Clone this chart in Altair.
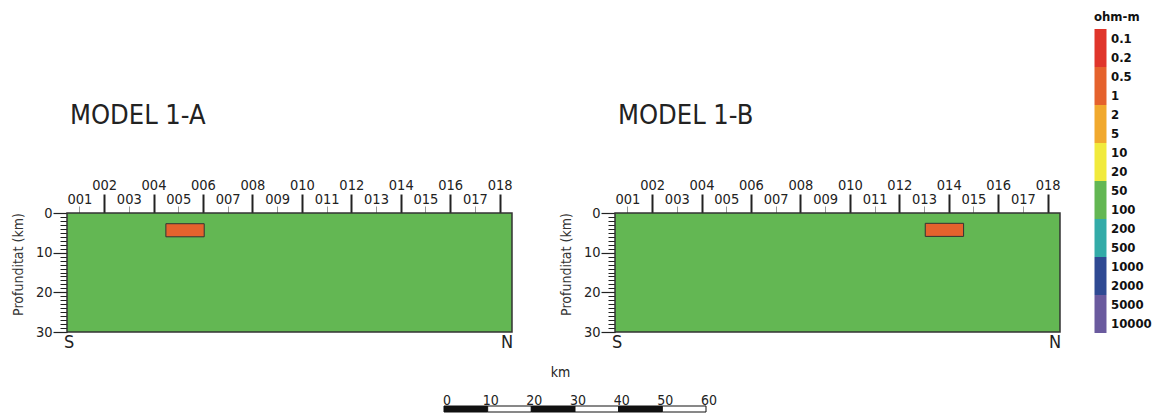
import altair as alt
import pandas as pd

FONT = "DejaVu Sans Condensed"
INK = "#222222"

# ---------------- data ----------------
stations = list(range(1, 19))
even_stations = stations[1::2]
odd_stations = stations[0::2]
x_domain = [0.5, 18.5]
depth_domain = [0, 30]
depth_major = [0, 10, 20, 30]
depth_minor = list(range(0, 31))

models = ["MODEL 1-A", "MODEL 1-B"]
host_res = "100"
anom_x0 = [4.5, 13.05]
anom_x1 = [6.05, 14.6]
anom_top = [2.7, 2.6]
anom_bot = [6.0, 5.9]
anom_res = ["1", "1"]

res_labels = ["0.1", "0.2", "0.5", "1", "2", "5", "10", "20", "50", "100",
              "200", "500", "1000", "2000", "5000", "10000"]
res_colors = ["#e0352b", "#e0352b", "#e5622d", "#e5622d", "#f1a92e", "#f1a92e",
              "#f1ea3c", "#f1ea3c", "#63b753", "#63b753", "#33aba8", "#33aba8",
              "#2f4a93", "#2f4a93", "#6a5a9e", "#6a5a9e"]

bar_km = [0, 10, 20, 30, 40, 50, 60]
ends = ["S", "N"]

PLOT_W = 445
PLOT_H = 119

no_view = alt.ViewBackground(stroke="transparent", strokeWidth=0, fill="transparent")

color_scale = alt.Scale(domain=res_labels, range=res_colors)
legend_def = alt.Legend(
    title="ohm-m", orient="none", legendX=1027, legendY=-202, direction="vertical",
    symbolType="M-1,-1.5833H1V1.5833H-1Z", symbolSize=144, symbolStrokeWidth=0,
    labelFont=FONT, labelFontSize=13, labelFontWeight="bold", labelColor="#111",
    titleFont=FONT, titleFontSize=13, titleFontWeight="bold", titleColor="#111",
    titlePadding=8, rowPadding=0, labelOffset=4, padding=0,
)

axis_even = alt.Axis(orient="top", values=even_stations, format="03d", tickSize=19, tickWidth=2,
                     tickColor=INK, labelPadding=1.5, labelFont=FONT, labelFontSize=14.5,
                     labelColor=INK, labelFlush=False, labelOverlap=False, domain=False,
                     grid=False, title=None)
axis_odd = alt.Axis(orient="top", values=odd_stations, format="03d", tickSize=7, tickWidth=1,
                    tickColor="#999999", labelPadding=0, labelFont=FONT, labelFontSize=14.5,
                    labelColor=INK, labelFlush=False, labelOverlap=False, domain=False,
                    grid=False, title=None)
axis_ymaj = alt.Axis(orient="left", values=depth_major, tickSize=14, tickWidth=1.2, tickColor=INK,
                     labelPadding=1, labelFont=FONT, labelFontSize=14.5, labelColor=INK,
                     labelFlush=False, labelOverlap=False, domain=False, grid=False,
                     title="Profunditat (km)", titleFont=FONT, titleFontSize=14,
                     titleFontWeight="normal", titleColor="#333333", titleX=-45, titleY=51,
                     titleBaseline="alphabetic")
axis_ymin = alt.Axis(orient="left", values=depth_minor, tickSize=7, tickWidth=1, tickColor=INK,
                     labels=False, domain=False, grid=False, title=None)


def panel(i):
    xs = alt.Scale(domain=x_domain, nice=False, zero=False)
    ys = alt.Scale(domain=depth_domain, nice=False, zero=False, reverse=True)
    host = pd.DataFrame({"x0": [x_domain[0]], "x1": [x_domain[1]],
                         "d0": [depth_domain[0]], "d1": [depth_domain[1]], "res": [host_res]})
    anom = pd.DataFrame({"x0": [anom_x0[i]], "x1": [anom_x1[i]],
                         "d0": [anom_top[i]], "d1": [anom_bot[i]], "res": [anom_res[i]]})
    marks = pd.DataFrame({"x": x_domain, "d": [depth_domain[1]] * 2, "t": ends})

    host_layer = alt.Chart(host).mark_rect(stroke="#333333", strokeWidth=1.5).encode(
        x=alt.X("x0:Q", scale=xs, axis=axis_even), x2="x1",
        y=alt.Y("d0:Q", scale=ys, axis=axis_ymaj), y2="d1",
        color=alt.Color("res:N", scale=color_scale, legend=legend_def),
    )
    anom_layer = alt.Chart(anom).mark_rect(stroke="#333333", strokeWidth=1).encode(
        x=alt.X("x0:Q", scale=xs, axis=axis_odd), x2="x1",
        y=alt.Y("d0:Q", scale=ys, axis=axis_ymin), y2="d1",
        color=alt.Color("res:N", scale=color_scale, legend=legend_def),
    )
    s_layer = alt.Chart(marks).transform_filter(alt.datum.t == "S").mark_text(
        align="left", baseline="top", dx=-3, dy=2, font=FONT, fontSize=18, color=INK
    ).encode(x=alt.X("x:Q", scale=xs, axis=None), y=alt.Y("d:Q", scale=ys, axis=None), text="t:N")
    n_layer = alt.Chart(marks).transform_filter(alt.datum.t == "N").mark_text(
        align="right", baseline="top", dx=1, dy=2, font=FONT, fontSize=18, color=INK
    ).encode(x=alt.X("x:Q", scale=xs, axis=None), y=alt.Y("d:Q", scale=ys, axis=None), text="t:N")

    return alt.layer(host_layer, anom_layer, s_layer, n_layer).resolve_axis(
        x="independent", y="independent"
    ).properties(
        width=PLOT_W, height=PLOT_H, view=no_view,
        title=alt.TitleParams(models[i], anchor="start", frame="group", font=FONT, fontSize=27,
                              fontWeight="normal", color=INK, offset=27, dx=3,
                              baseline="alphabetic"),
    )


sb = pd.DataFrame({"km0": bar_km[:-1], "km1": bar_km[1:],
                   "shade": ["dark" if k % 2 == 0 else "light" for k in range(len(bar_km) - 1)]})
scalebar = alt.Chart(sb).mark_rect(stroke="#111111", strokeWidth=1).encode(
    x=alt.X("km0:Q",
            scale=alt.Scale(domain=[bar_km[0], bar_km[-1]], range=[377, 639], nice=False, zero=False),
            axis=alt.Axis(orient="top", values=bar_km, ticks=False, tickSize=0, domain=False,
                          grid=False, labelPadding=-1, labelOffset=2.5, labelFlush=False,
                          labelOverlap=False, labelFont=FONT, labelFontSize=14, labelColor=INK,
                          title="km", titleFont=FONT, titleFontSize=14, titleFontWeight="normal",
                          titleColor=INK, titleX=493, titleY=-34, titleBaseline="middle")),
    x2="km1",
    fill=alt.Fill("shade:N", scale=alt.Scale(domain=["dark", "light"], range=["#111111", "#ffffff"]),
                  legend=None),
).properties(width=639, height=6, view=no_view)

top = alt.hconcat(panel(0), panel(1), spacing=45)
chart = alt.vconcat(top, scalebar, spacing=13).properties(
    padding={"left": 10, "top": 11, "right": 0, "bottom": 0}
).configure_view(stroke="transparent", strokeWidth=0).configure(background="white")

chart.save("out.html", embed_options={"renderer": "svg", "actions": False})
